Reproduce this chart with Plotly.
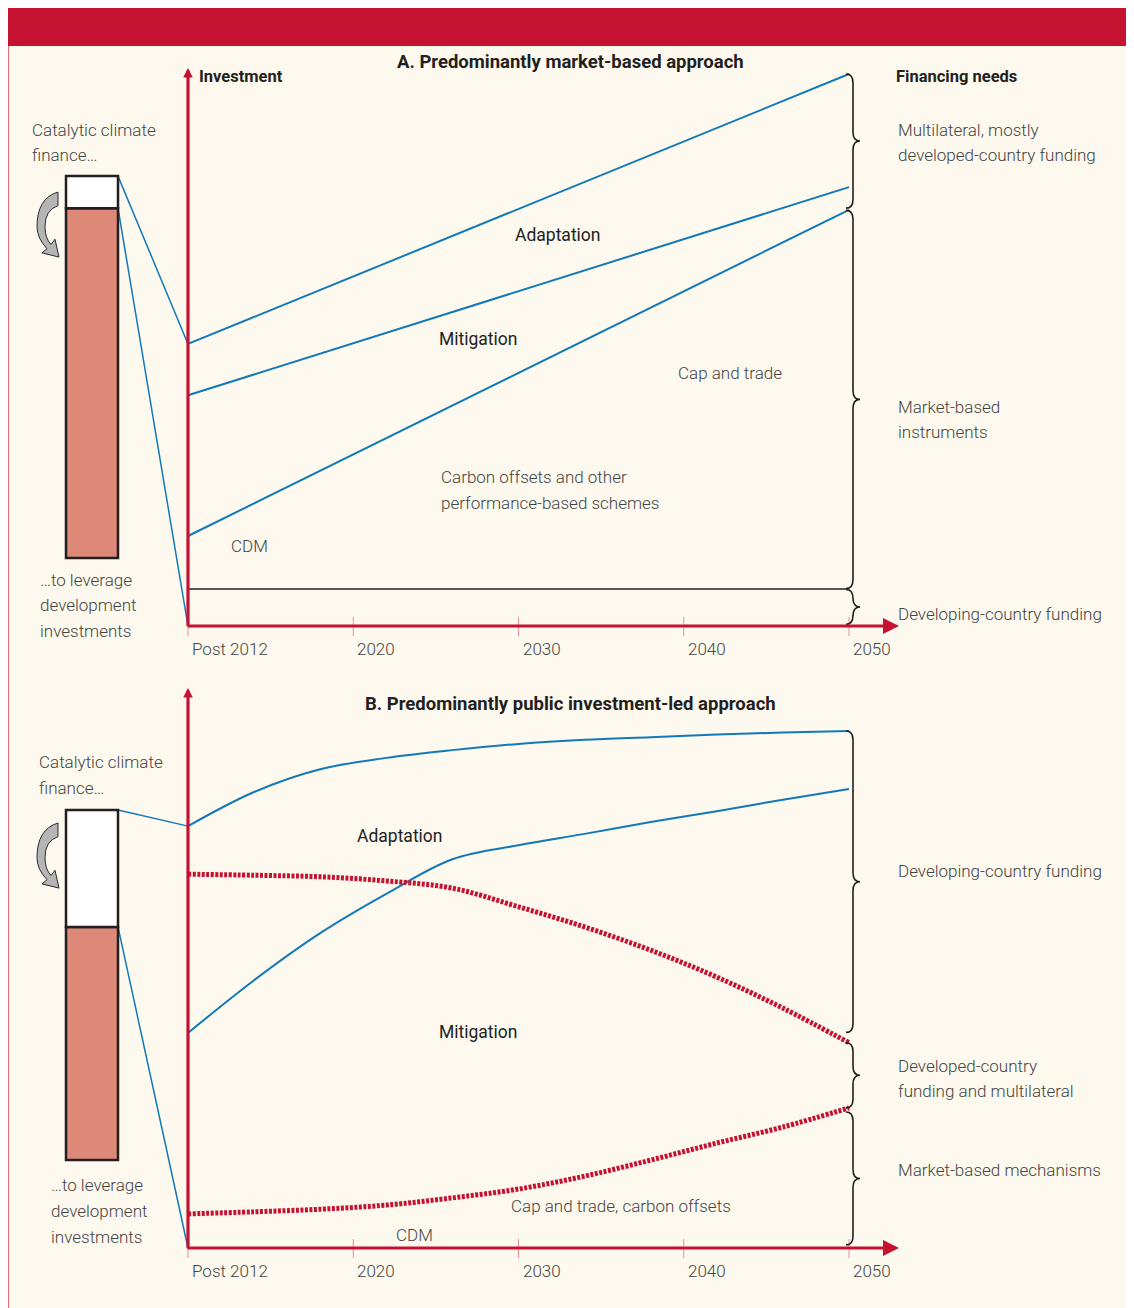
import plotly.graph_objects as go

# ---- data (schematic investment index; top of 2050 need = 100) ----
years = [2010, 2014, 2018, 2022, 2026, 2030, 2034, 2038, 2042, 2046, 2050]
tick_years = [2010, 2020, 2030, 2040, 2050]
tick_labels = ["Post 2012", "2020", "2030", "2040", "2050"]

# A. Predominantly market-based approach
a_years = [2010, 2050]
a_adaptation = [51.1, 100.0]
a_mitigation = [41.8, 79.5]
a_market = [16.3, 75.4]
a_developing = [6.7, 6.7]
a_bar = [12.3, 75.7, 81.5]  # leveraged bottom, catalytic bottom, catalytic top

# B. Predominantly public investment-led approach
b_adaptation = [81.6, 88.2, 92.6, 94.8, 96.3, 97.5, 98.3, 98.8, 99.3, 99.7, 100.0]
b_mitigation = [41.6, 51.8, 60.9, 68.5, 75.2, 77.9, 80.1, 82.4, 84.5, 86.7, 88.8]
b_developing = [72.3, 72.1, 71.8, 71.0, 69.6, 66.0, 62.1, 57.6, 52.4, 46.4, 39.7]
b_market = [6.6, 7.0, 7.5, 8.3, 9.7, 11.4, 13.9, 17.0, 20.3, 23.4, 27.1]
b_bar = [17.0, 62.1, 84.7]

# ---- styling / geometry ----
W, H = 1134, 1308
OFF = 8                     # page body margin; the figure starts 8px in
FW, FH = W - OFF, H - OFF
RED = "#c41230"
BLUE = "#1279b8"
INK = "#231f20"
GRAY = "#444444"
CREAM = "#fdf9ee"
BAR_RED = "#de8878"
FONT = "Roboto, sans-serif"

X0_PX, YR_PX = 188, 16.525          # pixel of Post 2012, pixels per year
A_ORIGIN, A_SCALE = 626, 5.52
B_ORIGIN, B_SCALE = 1248, 5.17


def xd(px):
    return 2010 + (px - X0_PX) / YR_PX


def to_y(py, origin, scale):
    return (origin - py) / scale


def to_px(v, origin, scale):
    return origin - v * scale


def paper_x(px):
    return (px - OFF) / FW


def paper_y(py):
    return 1 - (py - OFF) / FH


panels = [
    dict(yref="y", origin=A_ORIGIN, scale=A_SCALE),
    dict(yref="y2", origin=B_ORIGIN, scale=B_SCALE),
]

fig = go.Figure()


def line(x, y, yref, color=BLUE, width=2, dash=None, shape="linear"):
    fig.add_trace(go.Scatter(x=x, y=y, mode="lines", yaxis=yref, hoverinfo="skip",
                             line=dict(color=color, width=width, dash=dash, shape=shape)))


# panel A lines
line(a_years, a_adaptation, "y")
line(a_years, a_mitigation, "y")
line(a_years, a_market, "y")
line(a_years, a_developing, "y", color=INK, width=1.5)
line([xd(118), 2010], [a_bar[2], a_adaptation[0]], "y", width=1.5)
line([xd(118), 2010], [a_bar[1], 0], "y", width=1.5)

# panel B lines
line(years, b_adaptation, "y2", shape="spline")
line(years, b_mitigation, "y2", shape="spline")
line(years, b_developing, "y2", color=RED, width=5, dash="3px,1.5px", shape="spline")
line(years, b_market, "y2", color=RED, width=5, dash="3px,1.5px", shape="spline")
line([xd(118), 2010], [b_bar[2], b_adaptation[0]], "y2", width=1.5)
line([xd(118), 2010], [b_bar[1], 0], "y2", width=1.5)

# ticks
for p in panels:
    tx, ty = [], []
    for t in tick_years:
        tx += [t, t, None]
        ty += [to_y(p["origin"] - 9, p["origin"], p["scale"]),
               to_y(p["origin"] + 10, p["origin"], p["scale"]), None]
    line(tx, ty, p["yref"], color="#ec8f9b", width=1)

shapes = []
# background frame and header band
shapes.append(dict(type="rect", xref="paper", yref="paper", x0=paper_x(8), x1=1, y0=0, y1=paper_y(45),
                   fillcolor=CREAM, line=dict(width=0), layer="below"))
shapes.append(dict(type="line", xref="paper", yref="paper", x0=paper_x(8.5), x1=paper_x(8.5), y0=0,
                   y1=paper_y(45), line=dict(color="#e0707e", width=1.2), layer="below"))
shapes.append(dict(type="rect", xref="paper", yref="paper", x0=0, x1=1, y0=paper_y(46), y1=1,
                   fillcolor=RED, line=dict(width=0), layer="below"))


def brace(lo, hi, p):
    o, s = p["origin"], p["scale"]
    yt, yb_ = to_px(hi, o, s), to_px(lo, o, s)
    ym = (yt + yb_) / 2
    xh, xm, xt, r = 846, 853, 860, 9

    def pt(x, y):
        return f"{xd(x):.4f},{to_y(y, o, s):.4f}"

    path = (f"M {pt(xh, yt)} Q {pt(xm, yt)} {pt(xm, yt + r)} L {pt(xm, ym - r)} "
            f"Q {pt(xm, ym)} {pt(xt, ym)} Q {pt(xm, ym)} {pt(xm, ym + r)} "
            f"L {pt(xm, yb_ - r)} Q {pt(xm, yb_)} {pt(xh, yb_)}")
    shapes.append(dict(type="path", path=path, xref="x", yref=p["yref"],
                       line=dict(color=INK, width=1.6)))


pa, pb = panels
brace(a_market[-1] + 0.3, a_adaptation[-1], pa)
brace(a_developing[-1] + 0.1, a_market[-1] - 0.1, pa)
brace(0.3, a_developing[-1] - 0.1, pa)
brace(b_developing[-1] + 2.0, b_adaptation[-1], pb)
brace(b_market[-1], b_developing[-1], pb)
brace(0.6, b_market[-1] - 0.8, pb)

# catalytic finance bars
for bar, p in [(a_bar, pa), (b_bar, pb)]:
    shapes.append(dict(type="rect", xref="x", yref=p["yref"], x0=xd(66), x1=xd(118),
                       y0=bar[0], y1=bar[1], fillcolor=BAR_RED, line=dict(color=INK, width=2.5)))
    shapes.append(dict(type="rect", xref="x", yref=p["yref"], x0=xd(66), x1=xd(118),
                       y0=bar[1], y1=bar[2], fillcolor="white", line=dict(color=INK, width=2.5)))


# curved grey arrows beside the bars
def curl(x0, y0, sy=1.0):
    pts = [("M", 21, 0), ("L", 21, 13), ("Q", 8, 17, 8, 33), ("Q", 8, 44, 14, 50), ("L", 18, 45),
           ("L", 22, 62), ("L", 5, 58), ("L", 10, 54), ("Q", 0, 44, 0, 33), ("Q", 0, 6, 21, 0)]
    out = []
    for seg in pts:
        cmd, nums = seg[0], seg[1:]
        coords = []
        for i in range(0, len(nums), 2):
            coords.append(f"{paper_x(x0 + nums[i]):.5f},{paper_y(y0 + nums[i + 1] * sy):.5f}")
        out.append(cmd + " " + " ".join(coords))
    shapes.append(dict(type="path", xref="paper", yref="paper", path=" ".join(out) + " Z",
                       fillcolor="#b5b5b5", line=dict(color="#2a2a2a", width=1)))


curl(37, 192, 1.05)
curl(37, 823, 1.05)

annotations = []


def label(px, py, text, size=17, color=GRAY, anchor="left", weight=300, gap=25):
    # one annotation per line so the line spacing follows the original
    for i, part in enumerate(text.split("\n")):
        annotations.append(dict(x=paper_x(px), y=paper_y(py + i * gap), xref="paper", yref="paper",
                                text=part, showarrow=False, xanchor=anchor, yanchor="middle",
                                align=anchor,
                                font=dict(family=FONT, size=size, color=color, weight=weight)))


# axis arrows
for p, top in [(pa, 68), (pb, 688)]:
    o, s = p["origin"], p["scale"]
    annotations.append(dict(x=xd(899), y=0, ax=xd(186), ay=0, xref="x", yref=p["yref"],
                            axref="x", ayref=p["yref"], showarrow=True, arrowhead=2, arrowsize=1,
                            arrowwidth=3.2, arrowcolor=RED, text=""))
    annotations.append(dict(x=2010, y=to_y(top, o, s), ax=2010, ay=to_y(o + 1.5, o, s),
                            xref="x", yref=p["yref"], axref="x", ayref=p["yref"], showarrow=True,
                            arrowhead=2, arrowsize=0.6, arrowwidth=3.2, arrowcolor=RED, text=""))
    for t, lab in zip(tick_years, tick_labels):
        annotations.append(dict(x=t, y=0, xref="x", yref=p["yref"], text=lab, showarrow=False,
                                xanchor="left", yanchor="middle", xshift=2, yshift=-23,
                                font=dict(family=FONT, size=17, color=GRAY, weight=300)))

# panel A text
label(570, 62, "<b>A. Predominantly market-based approach</b>", 18.5, INK, "center", 400)
label(197, 77, "<b>Investment</b>", 16.5, INK, weight=400)
label(894, 77, "<b>Financing needs</b>", 16.5, INK, weight=400)
label(30, 130, "Catalytic climate\nfinance…")
label(38, 580, "…to leverage\ndevelopment\ninvestments", gap=25.5)
label(558, 235, "Adaptation", 17.5, "#222222", "center", 400)
label(478, 339, "Mitigation", 17.5, "#222222", "center", 400)
label(730, 373, "Cap and trade", anchor="center")
label(439, 477, "Carbon offsets and other\nperformance-based schemes", gap=26)
label(249, 546, "CDM", anchor="center")
label(896, 130, "Multilateral, mostly\ndeveloped-country funding")
label(896, 407, "Market-based\ninstruments")
label(896, 614, "Developing-country funding")

# panel B text
label(570, 704, "<b>B. Predominantly public investment-led approach</b>", 18.5, INK, "center", 400)
label(37, 762, "Catalytic climate\nfinance…", gap=26)
label(49, 1185, "…to leverage\ndevelopment\ninvestments", gap=26)
label(400, 836, "Adaptation", 17.5, "#222222", "center", 400)
label(478, 1032, "Mitigation", 17.5, "#222222", "center", 400)
label(621, 1206, "Cap and trade, carbon offsets", anchor="center")
label(414, 1235, "CDM", anchor="center")
label(896, 871, "Developing-country funding")
label(896, 1066, "Developed-country\nfunding and multilateral")
label(896, 1170, "Market-based mechanisms")

fig.update_layout(
    width=FW, height=FH,
    margin=dict(l=0, r=0, t=0, b=0),
    paper_bgcolor="white", plot_bgcolor="rgba(0,0,0,0)",
    showlegend=False,
    xaxis=dict(range=[xd(OFF), xd(W)], visible=False, fixedrange=True),
    yaxis=dict(range=[to_y(H, A_ORIGIN, A_SCALE), to_y(OFF, A_ORIGIN, A_SCALE)], visible=False,
               fixedrange=True),
    yaxis2=dict(range=[to_y(H, B_ORIGIN, B_SCALE), to_y(OFF, B_ORIGIN, B_SCALE)], visible=False,
                overlaying="y", fixedrange=True),
    shapes=shapes,
    annotations=annotations,
)

fig.write_html("out.html")
